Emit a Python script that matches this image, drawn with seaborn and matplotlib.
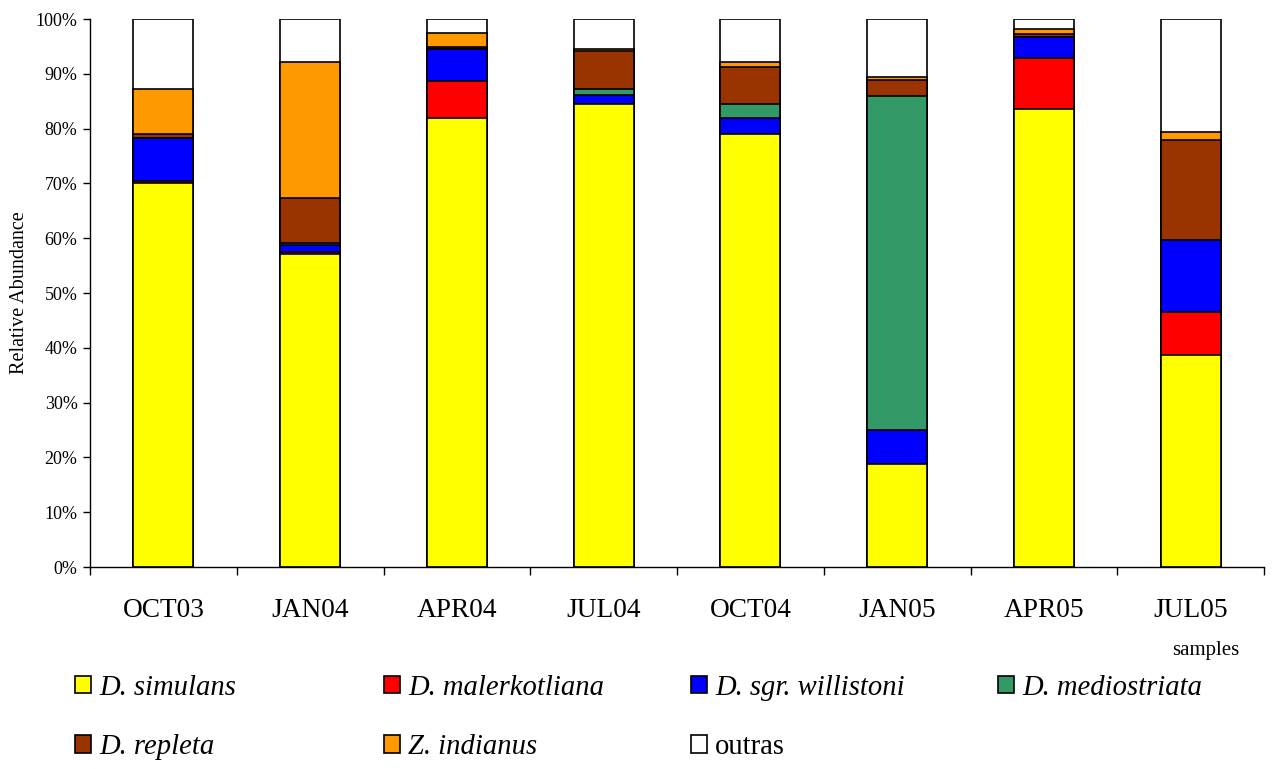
import numpy as np
import pandas as pd
import seaborn as sns
import matplotlib.pyplot as plt
import matplotlib.patches as mpatches

OUTPUT_FILE_NAME = "out.png"

# samples and relative abundance (%) per taxon
samples = ["OCT03", "JAN04", "APR04", "JUL04", "OCT04", "JAN05", "APR05", "JUL05"]
simulans = [70.1, 57.2, 82.0, 84.5, 79.0, 18.8, 83.6, 38.7]
malerkotliana = [0.3, 0.3, 6.6, 0.0, 0.0, 0.0, 9.2, 7.8]
willistoni = [7.9, 1.3, 5.9, 1.6, 3.0, 6.2, 4.0, 13.2]
mediostriata = [0.0, 0.3, 0.0, 1.1, 2.5, 60.9, 0.0, 0.0]
repleta = [0.7, 8.3, 0.4, 7.0, 6.8, 3.0, 0.4, 18.2]
indianus = [8.3, 24.8, 2.5, 0.4, 0.9, 0.5, 0.9, 1.4]
outras = [12.7, 7.8, 2.6, 5.4, 7.8, 10.6, 1.9, 20.7]

species_names = ["D. simulans", "D. malerkotliana", "D. sgr. willistoni", "D. mediostriata",
                 "D. repleta", "Z. indianus", "outras"]
species_colors = ["#FFFF00", "#FF0000", "#0000FF", "#339966", "#993300", "#FF9900", "#FFFFFF"]

if __name__ == "__main__":
    ### Data Processing ###
    layers = [simulans, malerkotliana, willistoni, mediostriata, repleta, indianus, outras]
    data = pd.DataFrame({"sample": samples})
    running = np.zeros(len(samples))
    for name, vals in zip(species_names, layers):
        running = running + np.array(vals)
        data[name] = running.copy()

    ### Chart Creation ###
    sns.set_theme(style="ticks")
    plt.rcParams["font.family"] = ["Liberation Serif", "DejaVu Serif"]
    for key in ["text.color", "axes.labelcolor", "xtick.color", "ytick.color"]:
        plt.rcParams[key] = "black"

    fig = plt.figure(figsize=(12.73, 7.69), dpi=100)
    ax = fig.add_axes([90 / 1273, 202 / 769, 1174 / 1273, 548 / 769])

    # draw cumulative totals from the top down so each layer covers the next
    for name, color in reversed(list(zip(species_names, species_colors))):
        sns.barplot(data=data, x="sample", y=name, color=color, edgecolor="black",
                    linewidth=1.2, width=0.41, saturation=1, errorbar=None, ax=ax)

    ax.set_ylim(0, 100)
    ax.set_xlim(-0.5, len(samples) - 0.5)
    ax.set_yticks(np.arange(0, 101, 10))
    ax.set_yticklabels([f"{v}%" for v in range(0, 101, 10)], fontsize=13)
    ax.tick_params(axis="y", direction="out", length=5, width=1, pad=4, color="black")

    # tick marks between the bars, labels under the bars
    ax.set_xticks(np.arange(-0.5, len(samples), 1))
    ax.set_xticklabels([])
    ax.tick_params(axis="x", which="major", direction="out", length=6, width=1, color="black")
    ax.set_xticks(np.arange(len(samples)), minor=True)
    ax.set_xticklabels(samples, minor=True, fontsize=19.7)
    ax.tick_params(axis="x", which="minor", length=0, pad=22)

    ax.set_xlabel("")
    ax.set_ylabel("Relative Abundance", fontsize=14.5, labelpad=5)
    sns.despine(ax=ax)
    for side in ["left", "bottom"]:
        ax.spines[side].set_color("black")
        ax.spines[side].set_linewidth(1)

    fig.text(1206 / 1273, 1 - 651 / 769, "samples", fontsize=15, ha="center", va="center")

    # legend: four columns, two rows
    handles = [mpatches.Patch(facecolor=c, edgecolor="black", linewidth=1.2, label=n)
               for n, c in zip(species_names, species_colors)]
    columns = [[0, 4], [1, 5], [2, 6], [3]]
    col_x = [75, 384, 691, 998]
    for idx, x in zip(columns, col_x):
        leg = fig.legend(handles=[handles[i] for i in idx], loc="upper left",
                         bbox_to_anchor=(x / 1273, 1 - 675 / 769), frameon=False,
                         fontsize=20.6, borderpad=0, borderaxespad=0, handlelength=0.55,
                         handleheight=0.55, handletextpad=0.3, labelspacing=1.16)
        for t in leg.get_texts():
            if t.get_text() != "outras":
                t.set_fontstyle("italic")

    plt.savefig(OUTPUT_FILE_NAME, dpi=100)
